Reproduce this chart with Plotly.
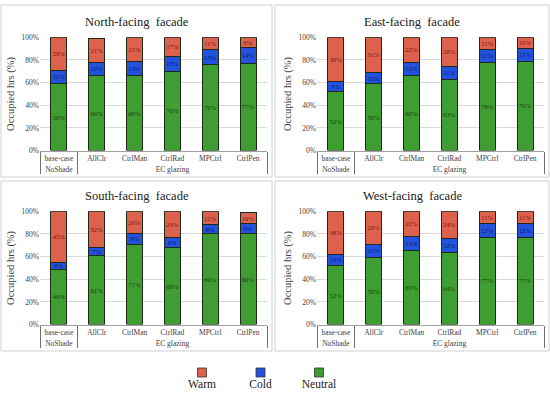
import plotly.graph_objects as go

W, H = 550, 399

scenarios = ["base-case", "AllClr", "CtrlMan", "CtrlRad", "MPCtrl", "CtrlPen"]
groups = ["NoShade", "EC glazing", "EC glazing", "EC glazing", "EC glazing", "EC glazing"]
facades = ["North-facing\u00a0 facade", "East-facing\u00a0 facade",
           "South-facing\u00a0 facade", "West-facing\u00a0 facade"]

north_neutral = [59, 66, 66, 70, 76, 77]
north_cold = [12, 12, 13, 13, 13, 14]
north_warm = [29, 21, 21, 17, 11, 9]

east_neutral = [52, 59, 66, 63, 78, 79]
east_cold = [9, 10, 12, 11, 11, 11]
east_warm = [39, 31, 22, 26, 11, 10]

south_neutral = [49, 61, 71, 68, 80, 80]
south_cold = [6, 7, 9, 9, 8, 9]
south_warm = [45, 32, 20, 23, 12, 10]

west_neutral = [52, 59, 65, 64, 77, 77]
west_cold = [10, 12, 13, 12, 12, 12]
west_warm = [38, 29, 22, 24, 11, 11]

legend_names = ["Warm", "Cold", "Neutral"]
y_ticks = [0, 20, 40, 60, 80, 100]
y_tick_labels = ["0%", "20%", "40%", "60%", "80%", "100%"]

panels = [
    (north_neutral, north_cold, north_warm),
    (east_neutral, east_cold, east_warm),
    (south_neutral, south_cold, south_warm),
    (west_neutral, west_cold, west_warm),
]

C_WARM = "#DC624E"
C_COLD = "#2352DC"
C_NEUT = "#3E9E32"
T_WARM = "#7A1410"
T_COLD = "#0A1A70"
T_NEUT = "#14420C"
OUTLINE = "#1C2A16"
SERIF = "Liberation Serif"

fig = go.Figure()

# pixel layout of plot areas (left, right, top, bottom)
areas = [
    (40, 267, 34, 150),
    (317, 544, 34, 150),
    (40, 267, 212, 328),
    (317, 544, 212, 328),
]
frames = [
    (1, 272, 1, 177),
    (275, 549, 1, 177),
    (1, 272, 181, 355),
    (275, 549, 181, 355),
]

xcats = [groups, scenarios]

for i, (neu, cold, warm) in enumerate(panels):
    xa = "x" if i == 0 else f"x{i+1}"
    ya = "y" if i == 0 else f"y{i+1}"
    for vals, col, tcol, name in [(neu, C_NEUT, T_NEUT, "Neutral"),
                                  (cold, C_COLD, T_COLD, "Cold"),
                                  (warm, C_WARM, T_WARM, "Warm")]:
        fig.add_trace(go.Bar(
            x=xcats, y=vals, name=name, xaxis=xa, yaxis=ya,
            marker=dict(color=col, line=dict(color=OUTLINE, width=1)),
            text=[f"{v}%" for v in vals], textposition="inside",
            insidetextanchor="middle", textangle=0,
            textfont=dict(family=SERIF, size=6.5, color=tcol),
            constraintext="none", showlegend=False,
            hoverinfo="skip",
        ))

layout = dict(
    width=W, height=H, margin=dict(l=0, r=0, t=0, b=0),
    paper_bgcolor="white", plot_bgcolor="white",
    barmode="stack", bargap=0.58, showlegend=False,
    font=dict(family=SERIF, color="#404040"),
)

annotations = []
shapes = []
for i, (l, r, t, b) in enumerate(areas):
    sfx = "" if i == 0 else str(i + 1)
    layout[f"xaxis{sfx}"] = dict(
        domain=[l / W, r / W], anchor=f"y{sfx}", type="multicategory",
        showline=True, linecolor="#A0A0A0", linewidth=1,
        showdividers=True, dividercolor="#707070", dividerwidth=1,
        ticks="", tickfont=dict(family=SERIF, size=7.5, color="#404040"),
        showgrid=False, fixedrange=True,
    )
    layout[f"yaxis{sfx}"] = dict(
        domain=[1 - b / H, 1 - t / H], anchor=f"x{sfx}",
        range=[0, 100], tickvals=y_ticks, ticktext=y_tick_labels,
        showgrid=True, gridcolor="#D9D9D9", gridwidth=1,
        zeroline=False, showline=False, ticks="",
        tickfont=dict(family=SERIF, size=7.5, color="#404040"),
        title=dict(text="Occupied hrs (%)", font=dict(family=SERIF, size=10.5, color="#404040"),
                   standoff=4),
        fixedrange=True,
    )
    fl, fr, ft, fb = frames[i]
    annotations.append(dict(
        text=facades[i], xref="paper", yref="paper",
        x=(fl + fr) / 2 / W, y=1 - (t - 16) / H, xanchor="center", yanchor="middle",
        showarrow=False, font=dict(family=SERIF, size=12.5, color="#202020"),
    ))
    shapes.append(dict(type="rect", xref="paper", yref="paper",
                       x0=fl / W, x1=fr / W, y0=1 - fb / H, y1=1 - ft / H,
                       line=dict(color="#D0D0D0", width=1)))

# legend drawn as a small scatter on its own axis
fig.add_trace(go.Scatter(
    x=legend_names, y=[0, 0, 0], xaxis="x5", yaxis="y5", mode="markers+text",
    marker=dict(symbol="square", size=9, color=[C_WARM, C_COLD, C_NEUT],
                line=dict(color="#333333", width=0.8)),
    text=legend_names, textposition="bottom center",
    textfont=dict(family=SERIF, size=11.5, color="#202020"),
    cliponaxis=False, showlegend=False, hoverinfo="skip",
))
layout["xaxis5"] = dict(domain=[172.75 / W, 348.25 / W], anchor="y5", range=[-0.5, 2.5],
                        visible=False, fixedrange=True)
layout["yaxis5"] = dict(domain=[1 - 387 / H, 1 - 367 / H], anchor="x5", range=[-1, 1],
                        visible=False, fixedrange=True)

layout["annotations"] = annotations
layout["shapes"] = shapes
fig.update_layout(**layout)
fig.write_html("out.html", config={"displayModeBar": False},
               post_script="document.body.style.margin='0';document.body.style.overflow='hidden';")
